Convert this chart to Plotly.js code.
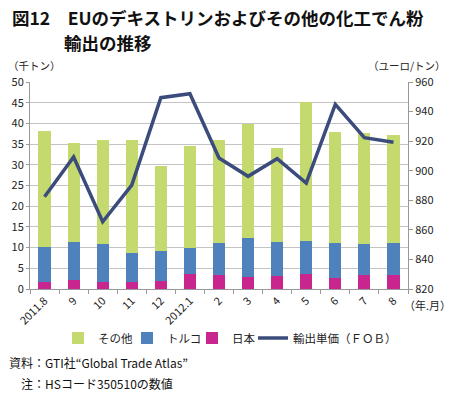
<!DOCTYPE html>
<html><head><meta charset="utf-8">
<script src="https://cdn.plot.ly/plotly-3.0.1.min.js"></script>
<style>body{margin:0;background:#fff}#c{width:451px;height:396px}</style>
</head><body><div id="c"></div>
<script>
const months = ["2011.8","9","10","11","12","2012.1","2","3","4","5","6","7","8"];
const japan  = [1.8,2.1,1.6,1.8,2.0,3.7,3.4,3.0,3.1,3.6,2.7,3.3,3.3];
const turkey = [8.3,9.3,9.2,6.8,7.1,6.3,7.6,9.2,8.3,8.1,8.5,7.6,7.8];
const other  = [28.0,23.9,25.2,27.3,20.6,24.5,25.0,27.7,22.7,33.4,26.8,26.7,26.2];
const price  = [882.4,909.3,865.5,890.3,949.4,952.1,908.6,896.2,908.1,891.7,944.9,922.3,919.2];
const leftTicks = [0,5,10,15,20,25,30,35,40,45,50];
const rightTicks = [820,840,860,880,900,920,940,960];

const F = '"Noto Sans CJK JP", "Noto Sans", sans-serif';
const traces = [
  {type:'bar', name:'日本', x:months, y:japan, marker:{color:'#C8258F'}, legend:'legend3'},
  {type:'bar', name:'トルコ', x:months, y:turkey, marker:{color:'#4F81BD'}, legend:'legend2'},
  {type:'bar', name:'その他', x:months, y:other, marker:{color:'#C4DA6E'}, legend:'legend'},
  {type:'scatter', mode:'lines', name:'輸出単価（ＦＯＢ）', x:months, y:price, yaxis:'y2',
   line:{color:'#3B4C7C', width:3.5}, legend:'legend4'}
];
const legY = -(338-289)/207;
function leg(px){
  return {orientation:'h', x:(px-30)/378, xanchor:'left', y:legY, yanchor:'middle',
          font:{size:11.5, color:'#222'}, itemwidth:30, bgcolor:'rgba(0,0,0,0)'};
}
const layout = {
  width:451, height:396,
  margin:{l:30, r:43, t:82, b:107},
  paper_bgcolor:'#fff', plot_bgcolor:'#fff',
  font:{family:F, size:11, color:'#222'},
  barmode:'stack', bargap:0.58,
  showlegend:true,
  legend:leg(58), legend2:leg(127), legend3:leg(192), legend4:leg(253),
  xaxis:{type:'category', tickangle:-45, tickson:'boundaries', ticks:'outside', ticklen:4,
         tickcolor:'#999', showline:true, linecolor:'#999', linewidth:1,
         tickfont:{size:11, color:'#222'}, showgrid:false, fixedrange:true},
  yaxis:{range:[0,50], tickvals:leftTicks, ticks:'outside', ticklen:3, tickcolor:'#999',
         showline:true, linecolor:'#999', gridcolor:'#C4C4C4', gridwidth:1,
         tickfont:{size:11, color:'#222'}, zeroline:false},
  yaxis2:{range:[820,960], tickvals:rightTicks, overlaying:'y', side:'right', ticks:'outside',
          ticklen:4, tickcolor:'#999', showline:true, linecolor:'#999', showgrid:false,
          tickfont:{size:11, color:'#222'}, zeroline:false},
  annotations:[
    {text:'<b>図12　EUのデキストリンおよびその他の化工でん粉</b>', xref:'paper', yref:'paper',
     x:-20/378, y:1+(82-18)/207, xanchor:'left', yanchor:'middle', showarrow:false,
     font:{size:17.5, color:'#111'}},
    {text:'<b>輸出の推移</b>', xref:'paper', yref:'paper',
     x:32/378, y:1+(82-42)/207, xanchor:'left', yanchor:'middle', showarrow:false,
     font:{size:17.5, color:'#111'}},
    {text:'（千トン）', xref:'paper', yref:'paper', x:-24/378, y:1+(82-65)/207,
     xanchor:'left', yanchor:'middle', showarrow:false, font:{size:10.5}},
    {text:'（ユーロ/トン）', xref:'paper', yref:'paper', x:1+40/378, y:1+(82-65)/207,
     xanchor:'right', yanchor:'middle', showarrow:false, font:{size:10.5}},
    {text:'（年.月）', xref:'paper', yref:'paper', x:1-6/378, y:-(305-289)/207,
     xanchor:'left', yanchor:'middle', showarrow:false, font:{size:11}},
    {text:'資料：GTI社“Global Trade Atlas”', xref:'paper', yref:'paper', x:-23/378, y:-(362-289)/207,
     xanchor:'left', yanchor:'middle', showarrow:false, font:{size:12, color:'#111'}},
    {text:'注：HSコード350510の数値', xref:'paper', yref:'paper', x:-11/378, y:-(383-289)/207,
     xanchor:'left', yanchor:'middle', showarrow:false, font:{size:12, color:'#111'}}
  ]
};
Plotly.newPlot('c', traces, layout, {displayModeBar:false, staticPlot:true});
</script></body></html>
